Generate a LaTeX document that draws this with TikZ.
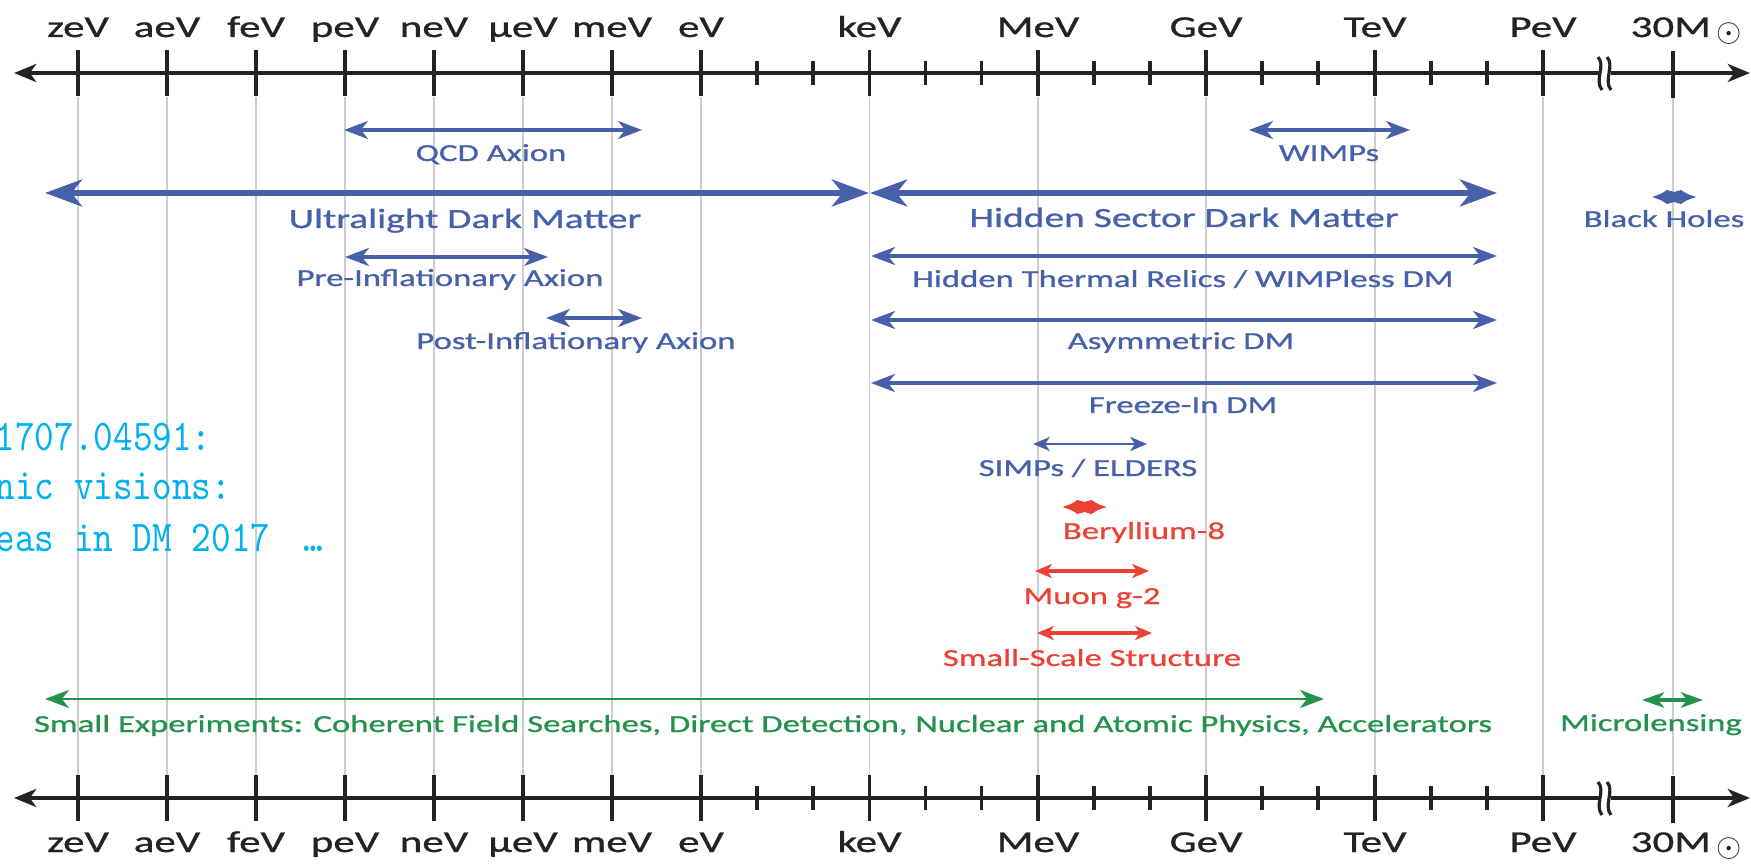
\documentclass[tikz,border=0pt]{standalone}
\usepackage{fontspec}
\setmainfont{Carlito}[FakeStretch=1.42, FakeBold=0.9]
\newfontfamily\notefont{lmmono10-regular.otf}[FakeStretch=0.85]
\usepackage{tikz}
\usetikzlibrary{arrows.meta}
\definecolor{dmblue}{RGB}{70,96,170}
\definecolor{dmred}{RGB}{236,66,54}
\definecolor{dmgreen}{RGB}{36,145,76}
\definecolor{notecyan}{RGB}{0,176,240}
\definecolor{gridgray}{RGB}{205,205,205}
\definecolor{axisblack}{RGB}{35,35,35}

\begin{document}
\begin{tikzpicture}[x=0.01cm, y=-0.01cm,
    axislab/.style={font=\fontsize{8.6pt}{10pt}\selectfont, text=axisblack, anchor=base, inner sep=0pt},
    biglab/.style={font=\fontsize{7.9pt}{9pt}\selectfont, text=dmblue, anchor=base, inner sep=0pt},
    lab/.style={font=\fontsize{6.95pt}{8pt}\selectfont, anchor=base, inner sep=0pt},
    notelab/.style={font=\notefont\fontsize{12.5pt}{14pt}\selectfont, text=notecyan, anchor=base west, inner sep=0pt},
    axisline/.style={axisblack, line width=1.15pt, {Stealth[length=6.3pt,width=5.1pt,inset=1.8pt]}-{Stealth[length=6.3pt,width=5.1pt,inset=1.8pt]}},
    majortick/.style={axisblack, line width=1pt},
    gridline/.style={gridgray, line width=0.45pt},
    bigrange/.style={dmblue, line width=1.8pt, {Stealth[length=10.5pt,width=7.6pt,inset=3pt]}-{Stealth[length=10.5pt,width=7.6pt,inset=3pt]}},
    midrange/.style={line width=1pt, {Stealth[length=6.8pt,width=5.1pt,inset=2pt]}-{Stealth[length=6.8pt,width=5.1pt,inset=2pt]}},
    smallrange/.style={line width=0.75pt, {Stealth[length=4.8pt,width=4pt,inset=1.4pt]}-{Stealth[length=4.8pt,width=4pt,inset=1.4pt]}}
  ]
  \useasboundingbox (0,0) rectangle (1751,864);

  % decade lines
  \foreach \x in {78,167,256,345,434,523,612,701,869.5,1038,1206,1375,1543,1673}
    \draw[gridline] (\x,97) -- (\x,775);

  % the two energy axes
  \foreach \y/\ly/\pos in {73/37/top, 798/852/bot} {
    \draw[axisline] (14,\y) -- (1750,\y);
    \foreach \x/\i/\name in {78/0/zeV, 167/1/aeV, 256/2/feV, 345/3/peV, 434/4/neV, 523/5/μeV, 612/6/meV, 701/7/eV,
        869.5/8/keV, 1038/9/MeV, 1206/10/GeV, 1375/11/TeV, 1543/12/PeV} {
      \draw[majortick] (\x,\y-23) -- (\x,\y+23);
      \node[axislab] (\pos-\i) at (\x,\ly) {\name};
    }
    \foreach \x in {757,813,925.5,981.5,1094,1150,1262,1318,1431,1487}
      \draw[majortick] (\x,\y-12) -- (\x,\y+12);
    \draw[majortick] (1673,\y-22) -- (1673,\y+25);
    \node[axislab, anchor=base west] (\pos-sun) at (1630,\ly) {30M\,\raisebox{-1.2pt}{$\odot$}};
    % axis break
    \fill[white] (1599,\y-5) rectangle (1611,\y+5);
    \draw[axisblack, line width=0.9pt] (1598,\y-16) .. controls (1606,\y-7) and (1594,\y+7) .. (1602,\y+17);
    \draw[axisblack, line width=0.9pt] (1607,\y-16) .. controls (1615,\y-7) and (1603,\y+7) .. (1611,\y+17);
  }

  % blue ranges
  \draw[bigrange] (45,193) -- (869,193);
  \draw[bigrange] (870,193) -- (1497,193);
  \foreach \xa/\xb/\y in {344/642/130, 1249/1410/130, 345/548/257, 546/642/318, 871/1497/256, 871/1497/320, 871/1497/383}
    \draw[midrange, dmblue] (\xa,\y) -- (\xb,\y);
  \draw[smallrange, dmblue] (1033,444) -- (1147,444);

  % red ranges
  \foreach \xa/\xb/\y in {1035/1149/571, 1037/1152/633}
    \draw[smallrange, dmred, line width=0.9pt] (\xa,\y) -- (\xb,\y);

  % single-point ranges (two heads back to back)
  \foreach \x/\y/\c in {1674/197/dmblue, 1084.5/507/dmred}
    \fill[\c] (\x-22,\y) .. controls (\x-13,\y-3) .. (\x-7,\y-7) -- (\x,\y-5) -- (\x+7,\y-7)
      .. controls (\x+13,\y-3) .. (\x+22,\y) .. controls (\x+13,\y+3) .. (\x+7,\y+7) -- (\x,\y+5)
      -- (\x-7,\y+7) .. controls (\x-13,\y+3) .. cycle;

  % green ranges
  \draw[midrange, dmgreen, line width=0.85pt] (45,699) -- (1324,699);
  \draw[dmgreen, line width=1pt, {Stealth[length=6.3pt,width=4.4pt,inset=1.8pt]}-{Stealth[length=6.3pt,width=4.4pt,inset=1.8pt]}] (1642,700) -- (1703,700);

  % labels
  \foreach \x/\y/\n/\txt in {465/228/uldm/Ultralight Dark Matter, 1184/227/hsdm/Hidden Sector Dark Matter}
    \node[biglab] (\n) at (\x,\y) {\txt};
  \foreach \x/\y/\n/\txt in {491/161/qcd/QCD Axion, 1329/161/wimp/WIMPs, 1664/227/bh/Black Holes,
      450/286/pre/Pre-Inflationary Axion, 576/349/post/Post-Inflationary Axion,
      1183/287/htr/{Hidden Thermal Relics / WIMPless DM}, 1181/349/adm/Asymmetric DM,
      1183/413/fidm/Freeze-In DM, 1088/476/simp/{SIMPs / ELDERS}}
    \node[lab, text=dmblue] (\n) at (\x,\y) {\txt};
  \foreach \x/\y/\n/\txt in {1144/539/be/Beryllium-8, 1092/604/muon/Muon g-2, 1092/666/sss/Small-Scale Structure}
    \node[lab, text=dmred] (\n) at (\x,\y) {\txt};
  \node[lab, text=dmgreen] (smallexp) at (763,732) {Small Experiments: Coherent Field Searches, Direct Detection, Nuclear and Atomic Physics, Accelerators};
  \node[lab, text=dmgreen] (micro) at (1651,731) {Microlensing};

  % overlaid note
  \foreach \y/\n/\txt in {451/a/1707.04591:, 500/b/nic visions:, 552/c/eas in DM 2017 \hspace{0.3em}…}
    \node[notelab] (note-\n) at (-5,\y) {\txt};
\end{tikzpicture}
\end{document}
